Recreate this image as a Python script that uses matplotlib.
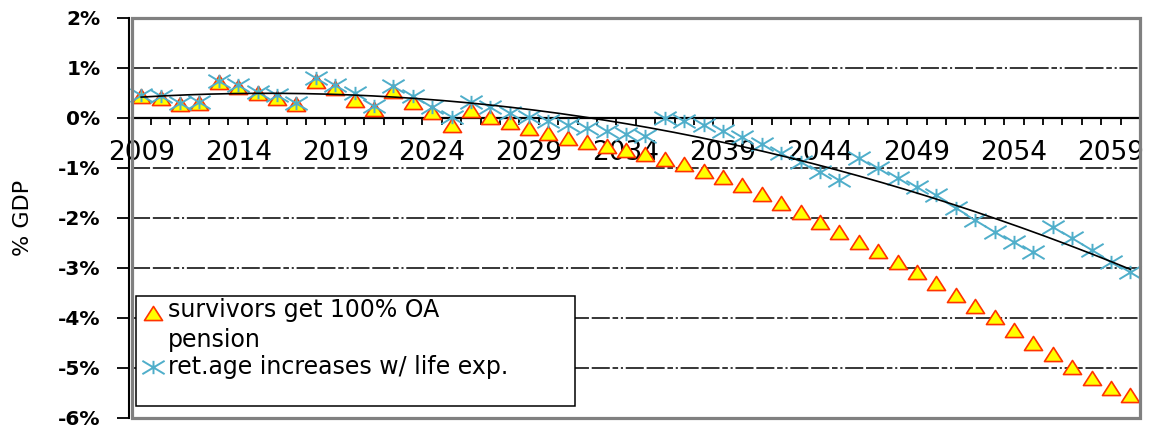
import numpy as np
import matplotlib
matplotlib.use("Agg")
import matplotlib.pyplot as plt
from matplotlib.path import Path
from matplotlib.patches import Rectangle
from matplotlib.lines import Line2D

# ---------------- data ----------------
years = list(range(2009, 2061))
survivors = [0.43, 0.40, 0.28, 0.30, 0.71, 0.62, 0.49, 0.39, 0.27, 0.74,
             0.60, 0.36, 0.18, 0.54, 0.31, 0.12, -0.14, 0.15, 0.02, -0.09,
             -0.20, -0.30, -0.40, -0.49, -0.57, -0.64, -0.72, -0.83, -0.93, -1.06,
             -1.19, -1.34, -1.53, -1.71, -1.89, -2.08, -2.28, -2.48, -2.67, -2.89,
             -3.09, -3.31, -3.55, -3.77, -3.98, -4.24, -4.50, -4.73, -4.98, -5.20,
             -5.41, -5.55]
ret_age = [0.46, 0.44, 0.29, 0.32, 0.73, 0.65, 0.52, 0.45, 0.29, 0.80,
           0.66, 0.50, 0.24, 0.63, 0.44, 0.21, 0.02, 0.32, 0.22, 0.09,
           0.02, -0.06, -0.14, -0.20, -0.27, -0.33, -0.37, 0.00, -0.06, -0.14,
           -0.26, -0.38, -0.52, -0.71, -0.88, -1.08, -1.25, -0.81, -1.01, -1.21,
           -1.38, -1.55, -1.80, -2.05, -2.28, -2.48, -2.68, -2.18, -2.41, -2.65,
           -2.88, -3.08]
xlabel_years = [2009, 2014, 2019, 2024, 2029, 2034, 2039, 2044, 2049, 2054, 2059]
yticks = [2, 1, 0, -1, -2, -3, -4, -5, -6]
ytick_labels = ["2%", "1%", "0%", "-1%", "-2%", "-3%", "-4%", "-5%", "-6%"]
series_labels = ["survivors get 100% OA\npension", "ret.age increases w/ life exp."]
y_title = "% GDP"
trend_degree = 2

# ---------------- figure ----------------
plt.rcParams["lines.scale_dashes"] = False
plt.rcParams["font.family"] = ["DejaVu Sans"]
W, H = 1152, 432
fig = plt.figure(figsize=(W / 100, H / 100), dpi=100)
L, R, T, B = 131.5, 1140, 17.7, 417.7
ax = fig.add_axes([L / W, 1 - B / H, (R - L) / W, (B - T) / H])

n = len(years)
x = np.arange(n)
ax.set_xlim(-0.5, n - 0.5)
ax.set_ylim(-6, 2)

# spines (set first: repositioning spines resets ticks)
for s in ("top", "right"):
    ax.spines[s].set_visible(False)
ax.spines["left"].set_position(("outward", 1.8))
ax.spines["left"].set_color("black")
ax.spines["left"].set_linewidth(1.5)
ax.spines["bottom"].set_position(("data", 0))
ax.spines["bottom"].set_color("black")
ax.spines["bottom"].set_linewidth(1.6)
ax.spines["bottom"].set_zorder(2)
ax.add_patch(Rectangle((0, 0), 1, 1, transform=ax.transAxes, fill=False,
                       ec="#808080", lw=2.3, clip_on=False, zorder=6))

# y ticks / gridlines
ax.set_yticks(yticks)
ax.set_yticklabels(ytick_labels, fontweight="bold", fontsize=14.5)
ax.tick_params(axis="y", direction="out", length=8.6, width=1.3, pad=12,
               color="black")
ax.grid(axis="y", color="black", lw=1.1,
        linestyle=(0, (13, 2, 13, 2, 4, 2, 1.5, 2)), zorder=1)
ax.grid(axis="x", visible=False)

# x ticks
ax.set_xticks(np.arange(-0.5, n, 1.0))
ax.set_xticklabels([])
ax.tick_params(axis="x", which="major", direction="out", length=5, width=1.3,
               color="black")
pos = [years.index(yv) for yv in xlabel_years]
ax.set_xticks(pos, minor=True)
ax.set_xticklabels([str(v) for v in xlabel_years], minor=True, fontsize=19)
ax.tick_params(axis="x", which="minor", length=0, pad=16)

ax.set_ylabel(y_title, fontsize=16)
ax.yaxis.set_label_coords((33 - L) / (R - L), 0.5)

# markers
tri_path = Path([(0, 0.78), (-1, -0.78), (1, -0.78), (0, 0.78)],
                [Path.MOVETO, Path.LINETO, Path.LINETO, Path.CLOSEPOLY])
star_path = Path([(0, -0.6), (0, 0.6), (-1, -0.6), (1, 0.6), (-1, 0.6), (1, -0.6)],
                 [Path.MOVETO, Path.LINETO] * 3)
tri_kw = dict(marker=tri_path, ms=13, mfc="#FFFF00", mec="#FF3300", mew=1.2,
              linestyle="none")
star_kw = dict(marker=star_path, ms=16, mfc="none", mec="#4FAECA", mew=1.4,
               linestyle="none")

ax.plot(x, survivors, zorder=3, clip_on=False, **tri_kw)
ax.plot(x, ret_age, zorder=4, clip_on=False, **star_kw)

# polynomial trendline of the retirement-age series
coef = np.polyfit(x, ret_age, trend_degree)
xs = np.linspace(0, n - 1, 300)
ax.plot(xs, np.polyval(coef, xs), color="black", lw=1.2, zorder=5)

# legend (manual box)
fig.add_artist(Rectangle((136 / W, 1 - 406 / H), (575 - 136) / W, (406 - 296) / H,
                         transform=fig.transFigure, fc="white", ec="black",
                         lw=1.1, zorder=10))
fig.add_artist(Line2D([153 / W], [1 - 313 / H], transform=fig.transFigure,
                      zorder=11, **tri_kw))
fig.add_artist(Line2D([153 / W], [1 - 367 / H], transform=fig.transFigure,
                      zorder=11, **star_kw))
fig.text(168 / W, 1 - 325 / H, series_labels[0], fontsize=17, va="center",
         ha="left", linespacing=1.3, zorder=11)
fig.text(168 / W, 1 - 367 / H, series_labels[1], fontsize=17, va="center",
         ha="left", zorder=11)

fig.savefig("out.png", dpi=100, facecolor="white")
